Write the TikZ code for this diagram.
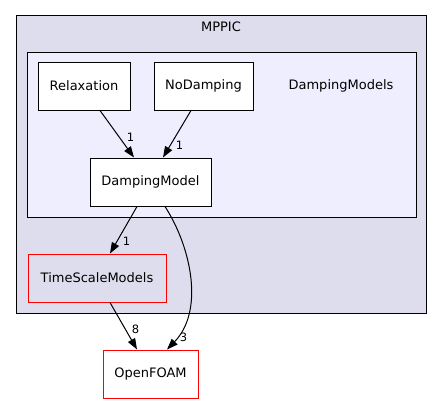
\documentclass[tikz,border=0pt]{standalone}
\usepackage{fontspec}
\setmainfont{DejaVu Sans}
\usetikzlibrary{positioning, arrows.meta}

\definecolor{outerfill}{HTML}{DDDDEE}
\definecolor{innerfill}{HTML}{EEEEFF}

\begin{document}
\begin{tikzpicture}[
    x=1pt, y=-1pt,
    every node/.style={font=\fontsize{13}{15}\selectfont},
    % Cluster frames
    outercl/.style={rectangle, draw=black, fill=outerfill, line width=1pt, inner sep=0pt},
    innercl/.style={rectangle, draw=black, fill=innerfill, line width=1pt, inner sep=0pt},
    % Directory boxes
    dirbox/.style={rectangle, draw=black, fill=white, line width=1pt,
        minimum height=48pt, inner sep=0pt},
    % Directory with sub-directories: red border
    reddir/.style={dirbox, draw=red},
    % Dependency edge
    dep/.style={line width=1pt, -{Triangle[length=11pt, width=8pt]}},
    % Edge count label
    cnt/.style={font=\fontsize{11.5}{13}\selectfont, inner sep=0pt, anchor=west},
]
\useasboundingbox (0,0) rectangle (443,404);

% ====================================================
% CLUSTERS
% ====================================================
\node[outercl, minimum width=410pt, minimum height=297pt] (mppic) at (221,164.5) {};
\node (mppic-lbl) at (221,27) {MPPIC};

\node[innercl, minimum width=389pt, minimum height=165pt] (damping) at (221.5,134.5) {};
\node (damping-lbl) at (341,86) {DampingModels};

% ====================================================
% DIRECTORIES
% ====================================================
\node[dirbox, minimum width=92pt] (relax) at (84,86) {Relaxation};
\node[dirbox, minimum width=99pt] (nodamp) at (203.5,86) {NoDamping};
\node[dirbox, minimum width=121pt] (dampmodel) at (150.5,182) {DampingModel};

\node[reddir, fill=outerfill, minimum width=138pt] (timescale) at (97,278) {TimeScaleModels};
\node[reddir, minimum width=95pt] (openfoam) at (150.5,374) {OpenFOAM};

% ====================================================
% DEPENDENCIES
% ====================================================
\draw[dep] ([xshift=16pt]relax.south) -- node[cnt, pos=0.56, xshift=7.4pt] {1}
    ([xshift=-16.5pt]dampmodel.north);
\draw[dep] ([xshift=-12.5pt]nodamp.south) -- node[cnt, pos=0.75, xshift=5.4pt] {1}
    ([xshift=12.5pt]dampmodel.north);
\draw[dep] ([xshift=-13.5pt]dampmodel.south) -- node[cnt, pos=0.75, xshift=5.6pt] {1}
    ([xshift=13pt]timescale.north);
\draw[dep] ([xshift=13pt]timescale.south) -- node[cnt, pos=0.56, xshift=6.2pt] {8}
    ([xshift=-13.5pt]openfoam.north);
\draw[dep] ([xshift=14.5pt]dampmodel.south) .. controls +(27,42) and +(37,-38) ..
    node[cnt, pos=0.9, xshift=2.7pt] {3} ([xshift=16.5pt]openfoam.north);

\end{tikzpicture}
\end{document}
